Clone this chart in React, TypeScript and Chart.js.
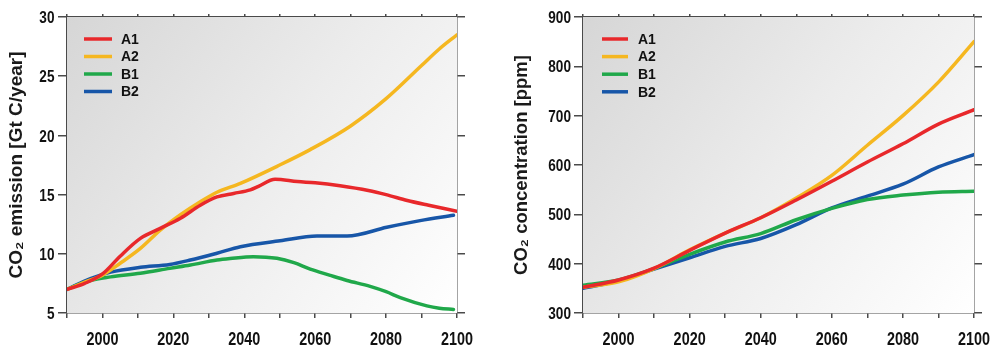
import { useEffect, useRef } from 'react';
import { Chart, registerables } from 'chart.js';

Chart.register(...registerables);

// ---------- data ----------
const SERIES = ['A1', 'A2', 'B1', 'B2'];
const COLORS = ['#e8282b', '#f5b720', '#20a84a', '#1756a8'];

const X_MIN = 1990;
const X_MAX = 2100;
const X_LABELS = [2000, 2020, 2040, 2060, 2080, 2100];

// Left panel: CO2 emission [Gt C/year]
const EM_A1_YEARS = [1990, 1995, 2000, 2005, 2010.7, 2016.3, 2022, 2027.6, 2032.3, 2037, 2041.7, 2044, 2048.7, 2055, 2060, 2067, 2075, 2080, 2086, 2092, 2100];
const EM_A1 = [7.0, 7.5, 8.3, 9.8, 11.3, 12.15, 13.0, 14.1, 14.8, 15.1, 15.4, 15.7, 16.3, 16.1, 16.0, 15.75, 15.35, 15.0, 14.5, 14.1, 13.6];
const EM_A2_YEARS = [1990, 1995, 2000, 2005, 2010.7, 2016.3, 2022, 2027.6, 2032.3, 2038.9, 2050, 2058.6, 2070, 2080, 2090, 2095, 2100];
const EM_A2 = [7.0, 7.6, 8.2, 9.2, 10.45, 12.0, 13.3, 14.4, 15.2, 15.95, 17.5, 18.8, 20.8, 23.1, 25.9, 27.3, 28.5];
const EM_B1_YEARS = [1990, 1996.6, 2002.3, 2010.7, 2019, 2024.8, 2032.3, 2036, 2042.6, 2049.2, 2054, 2058.6, 2064, 2069, 2075.5, 2080, 2084, 2091.5, 2095, 2099];
const EM_B1 = [7.0, 7.75, 8.05, 8.35, 8.77, 9.05, 9.47, 9.6, 9.76, 9.62, 9.25, 8.7, 8.2, 7.75, 7.25, 6.8, 6.3, 5.6, 5.4, 5.3];
const EM_B2_YEARS = [1990, 1996.6, 2002.3, 2010.7, 2019, 2024.8, 2032.3, 2038.9, 2050.1, 2060.5, 2069, 2080.2, 2089.6, 2099];
const EM_B2 = [7.0, 7.9, 8.45, 8.86, 9.1, 9.47, 10.05, 10.6, 11.1, 11.5, 11.5, 12.24, 12.8, 13.25];

// Right panel: CO2 concentration [ppm]
const CO_YEARS = [1990, 2000, 2010, 2020, 2030, 2040, 2050, 2060, 2070, 2080, 2090, 2100];
const CO_A1 = [352, 367, 391, 427, 462, 493, 529, 567, 606, 643, 683, 712];
const CO_A2 = [352, 363, 390, 428, 462, 493, 533, 579, 640, 700, 768, 850];
const CO_B1 = [356, 367, 390, 419, 444, 461, 489, 512, 530, 539, 545, 547];
const CO_B2 = [350, 365, 389, 412, 435, 451, 479, 513, 537, 561, 596, 621];

const EM_TICKS = { min: 5, max: 30, step: 5 };
const CO_TICKS = { min: 300, max: 900, step: 100 };

// ---------- helpers ----------
const TEXT_FONT = '"Liberation Sans", Arial, sans-serif';
const AXIS_COLOR = '#4a4a4a';

function pts(xs: number[], ys: number[]) {
  return xs.map((x, i) => ({ x, y: ys[i] }));
}

const bgPlugin = {
  id: 'bgGradient',
  beforeDatasetsDraw(chart: any) {
    const { ctx, chartArea: a } = chart;
    const g = ctx.createLinearGradient(a.left, a.top, a.right, a.bottom);
    g.addColorStop(0, '#d6d6d6');
    g.addColorStop(0.5, '#ececec');
    g.addColorStop(1, '#ffffff');
    ctx.save();
    ctx.fillStyle = g;
    ctx.fillRect(a.left, a.top, a.right - a.left, a.bottom - a.top);
    ctx.restore();
  },
};

// Draws the library-generated tick labels of the x and y scales in a condensed bold face.
const condensedTicks = {
  id: 'condensedTicks',
  afterDraw(chart: any, _args: any, opts: any) {
    const { ctx } = chart;
    const sx = opts.scaleX;
    ctx.save();
    ctx.fillStyle = '#111';
    ctx.textBaseline = 'alphabetic';
    const xs = chart.scales.x;
    ctx.font = `bold ${opts.xSize}px ${TEXT_FONT}`;
    ctx.textAlign = 'center';
    xs.ticks.forEach((t: any) => {
      if (!t.label) return;
      const px = xs.getPixelForValue(t.value);
      ctx.save();
      ctx.translate(px, xs.top + opts.xBase);
      ctx.scale(sx, 1);
      ctx.fillText(String(t.label), 0, 0);
      ctx.restore();
    });
    const ys = chart.scales.y;
    ctx.font = `bold ${opts.ySize}px ${TEXT_FONT}`;
    ctx.textAlign = 'right';
    ys.ticks.forEach((t: any) => {
      const py = ys.getPixelForValue(t.value);
      ctx.save();
      ctx.translate(ys.right - opts.yGap, py + opts.ySize * 0.36);
      ctx.scale(sx, 1);
      ctx.fillText(String(t.label), 0, 0);
      ctx.restore();
    });
    ctx.restore();
  },
};

const legendPlugin = {
  id: 'insideLegend',
  afterDatasetsDraw(chart: any, _args: any, opts: any) {
    const { ctx } = chart;
    chart.data.datasets.forEach((ds: any, i: number) => {
      const y = opts.y + i * opts.spacing;
      ctx.save();
      ctx.strokeStyle = ds.borderColor;
      ctx.lineWidth = 3.5;
      ctx.beginPath();
      ctx.moveTo(opts.x1, y);
      ctx.lineTo(opts.x2, y);
      ctx.stroke();
      ctx.fillStyle = '#111';
      ctx.font = 'bold 14px ' + TEXT_FONT;
      ctx.textBaseline = 'middle';
      ctx.fillText(ds.label, opts.tx, y + 1);
      ctx.restore();
    });
  },
};

interface PanelProps {
  series: { x: number; y: number }[][];
  ticks: { min: number; max: number; step: number };
  title: string;
  titleSize: number;
  titlePad: number;
  width: number;
  leftW: number;
  rightW: number;
  yGap: number;
  legend: { x1: number; x2: number; tx: number; y: number; spacing: number };
}

function Panel(p: PanelProps) {
  const ref = useRef<HTMLCanvasElement>(null);
  useEffect(() => {
    if (!ref.current) return;
    const gridBase = { drawOnChartArea: false, drawTicks: true, color: AXIS_COLOR, lineWidth: 1.5 };
    const border = { display: true, color: AXIS_COLOR, width: 1.5 };
    const chart = new Chart(ref.current, {
      type: 'line',
      data: {
        datasets: p.series.map((d, i) => ({
          label: SERIES[i],
          data: d,
          borderColor: COLORS[i],
          backgroundColor: COLORS[i],
          borderWidth: 3.5,
          pointRadius: 0,
          fill: false,
          cubicInterpolationMode: 'monotone' as const,
          borderCapStyle: 'round' as const,
        })),
      },
      options: {
        responsive: false,
        animation: false,
        events: [],
        layout: { padding: 0 },
        plugins: {
          legend: { display: false },
          tooltip: { enabled: false },
          insideLegend: p.legend,
          condensedTicks: { scaleX: 0.8, xSize: 18, ySize: 17, xBase: 32, yGap: p.yGap },
        } as any,
        scales: {
          x: {
            type: 'linear',
            position: 'bottom',
            min: X_MIN,
            max: X_MAX,
            ticks: {
              stepSize: 10,
              autoSkip: false,
              maxRotation: 0,
              display: false,
              callback: (v: any) => (X_LABELS.includes(Number(v)) ? String(v) : ''),
            },
            grid: { ...gridBase, tickLength: 5 },
            border,
            afterFit: (s: any) => { s.height = 36; },
          },
          xTop: {
            type: 'linear',
            position: 'top',
            min: X_MIN,
            max: X_MAX,
            ticks: { stepSize: 10, display: false, autoSkip: false },
            grid: { ...gridBase, tickLength: 3 },
            border,
            afterFit: (s: any) => { s.height = 17; },
          },
          y: {
            type: 'linear',
            position: 'left',
            min: p.ticks.min,
            max: p.ticks.max,
            ticks: { stepSize: p.ticks.step, display: false },
            grid: { ...gridBase, tickLength: 9 },
            border,
            title: {
              display: true,
              text: p.title,
              color: '#1a1a1a',
              font: { family: TEXT_FONT, size: p.titleSize, weight: 'bold' },
              padding: { top: p.titlePad, bottom: 0 },
            },
            afterFit: (s: any) => { s.width = p.leftW; },
          },
          yRight: {
            type: 'linear',
            position: 'right',
            min: p.ticks.min,
            max: p.ticks.max,
            ticks: { stepSize: p.ticks.step, display: false },
            grid: { ...gridBase, tickLength: 8 },
            border,
            afterFit: (s: any) => { s.width = p.rightW; },
          },
        },
      } as any,
      plugins: [bgPlugin, legendPlugin, condensedTicks],
    });
    return () => chart.destroy();
  }, []);
  return <canvas ref={ref} width={p.width} height={349} style={{ display: 'block' }} />;
}

export default function App() {
  const emission = [pts(EM_A1_YEARS, EM_A1), pts(EM_A2_YEARS, EM_A2), pts(EM_B1_YEARS, EM_B1), pts(EM_B2_YEARS, EM_B2)];
  const conc = [pts(CO_YEARS, CO_A1), pts(CO_YEARS, CO_A2), pts(CO_YEARS, CO_B1), pts(CO_YEARS, CO_B2)];
  return (
    <div style={{ position: 'absolute', left: 0, top: 0, width: 1001, height: 349, background: '#fff', overflow: 'hidden' }}>
      <div style={{ position: 'absolute', left: 0, top: 0 }}>
        <Panel
          series={emission}
          ticks={EM_TICKS}
          title="CO₂ emission [Gt C/year]"
          titleSize={19}
          titlePad={5}
          width={490}
          leftW={67}
          rightW={33}
          yGap={12.5}
          legend={{ x1: 84, x2: 112, tx: 121, y: 39, spacing: 17.5 }}
        />
      </div>
      <div style={{ position: 'absolute', left: 500, top: 0 }}>
        <Panel
          series={conc}
          ticks={CO_TICKS}
          title="CO₂ concentration [ppm]"
          titleSize={18.5}
          titlePad={11}
          width={501}
          leftW={83}
          rightW={27}
          yGap={12}
          legend={{ x1: 102, x2: 128, tx: 138, y: 39, spacing: 17.6 }}
        />
      </div>
    </div>
  );
}
